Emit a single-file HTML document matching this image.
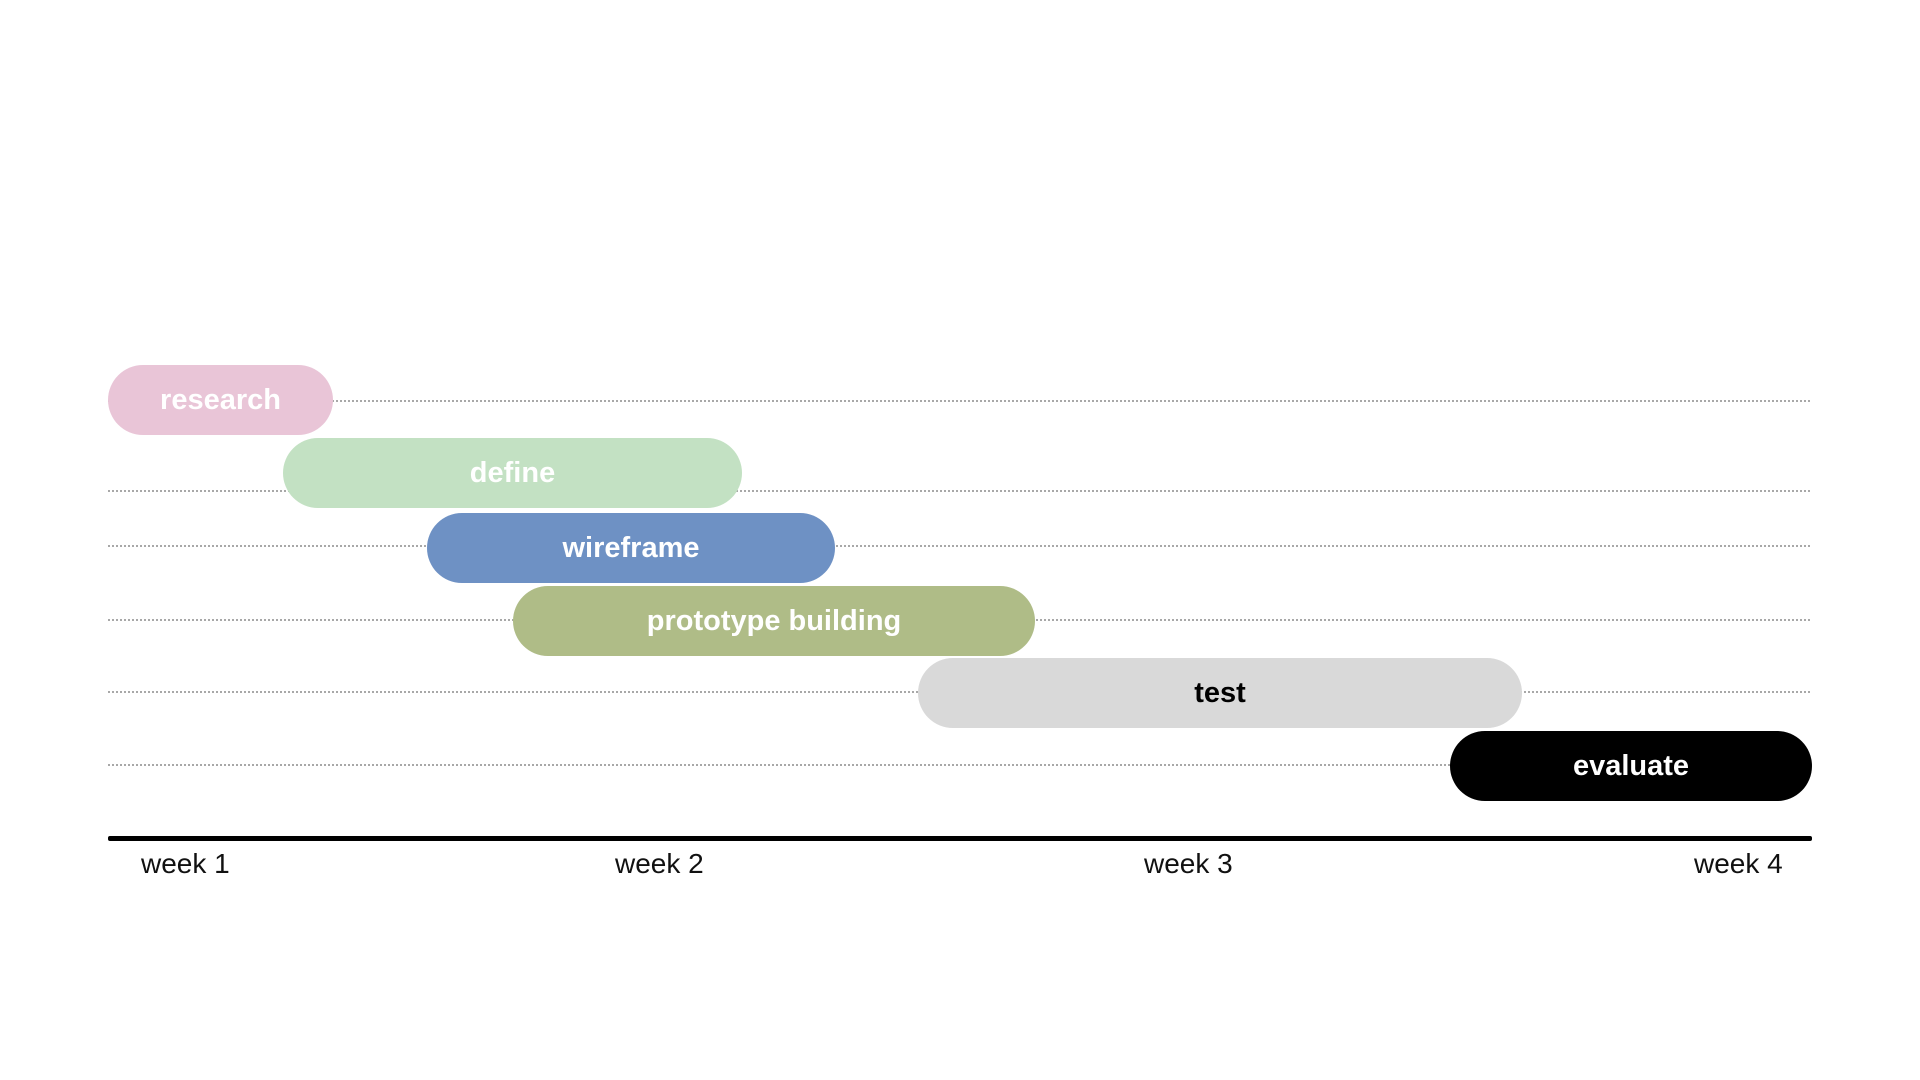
<!DOCTYPE html>
<html><head><meta charset="utf-8"><style>
html,body{margin:0;padding:0;background:#fff;width:1920px;height:1080px;overflow:hidden;position:relative;font-family:"Liberation Sans",sans-serif}
.dl{position:absolute;left:108px;width:1702px;height:0;border-top:2px dotted #a8a8a8}
.bar{position:absolute;height:70px;border-radius:35px;color:#fff;font-weight:bold;font-size:29px;display:flex;align-items:center;justify-content:center}
.wk{position:absolute;top:848px;font-size:28px;color:#111}
</style></head><body>
<div class="dl" style="top:400px"></div>
<div class="dl" style="top:490px"></div>
<div class="dl" style="top:545px"></div>
<div class="dl" style="top:619px"></div>
<div class="dl" style="top:691px"></div>
<div class="dl" style="top:764px"></div>
<div class="bar" style="left:108px;top:365px;width:225px;background:#e9c5d7">research</div>
<div class="bar" style="left:283px;top:438px;width:459px;background:#c3e1c3">define</div>
<div class="bar" style="left:427px;top:513px;width:408px;background:#6e91c4">wireframe</div>
<div class="bar" style="left:513px;top:586px;width:522px;background:#afbc87">prototype building</div>
<div class="bar" style="left:918px;top:658px;width:604px;background:#d9d9d9;color:#000">test</div>
<div class="bar" style="left:1450px;top:731px;width:362px;background:#000">evaluate</div>
<div style="position:absolute;left:108px;top:836px;width:1704px;height:5px;background:#000;border-radius:2px"></div>
<div class="wk" style="left:141px">week 1</div>
<div class="wk" style="left:615px">week 2</div>
<div class="wk" style="left:1144px">week 3</div>
<div class="wk" style="left:1694px">week 4</div>
</body></html>
